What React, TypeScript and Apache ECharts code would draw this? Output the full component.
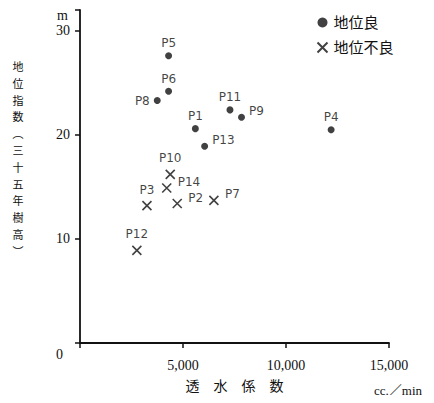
import React, { useEffect, useRef } from "react";
import * as echarts from "echarts";

// 地位良 (good site) points: [透水係数 cc/min, 地位指数 m, label]
const goodNames = ["P5", "P6", "P8", "P1", "P13", "P11", "P9", "P4"];
const goodX = [4300, 4300, 3750, 5600, 6050, 7280, 7840, 12190];
const goodY = [27.6, 24.2, 23.3, 20.6, 18.9, 22.4, 21.7, 20.5];

// 地位不良 (poor site) points
const poorNames = ["P10", "P14", "P3", "P2", "P7", "P12"];
const poorX = [4380, 4210, 3250, 4720, 6500, 2760];
const poorY = [16.2, 14.9, 13.2, 13.4, 13.7, 8.9];

const xTicks = [0, 5000, 10000, 15000];
const yTicks = [0, 10, 20, 30];
const yNameChars = ["地", "位", "指", "数", "︵", "三", "十", "五", "年", "樹", "高", "︶"];

const goodLabelPos = ["top", "top", "left", "top", "right", "top", "right", "top"];
const poorLabelPos = ["top", "right", "top", "right", "right", "top"];

const FONT = "'Liberation Serif', 'Noto Sans CJK JP', serif";
const HAND = "'DejaVu Sans', 'Noto Sans', sans-serif";
const CROSS = "path://M0 0L10 10M10 0L0 10";

export default function App() {
  const ref = useRef<HTMLDivElement>(null);
  useEffect(() => {
    if (!ref.current) return;
    const chart = echarts.init(ref.current, null, { renderer: "svg" });
    const mk = (xs: number[], ys: number[], names: string[], pos: string[]) =>
      xs.map((x, i) => ({
        value: [x, ys[i]],
        name: names[i],
        label: {
          position: pos[i],
          distance: pos[i] === "top" ? 3 : 4,
          offset: pos[i] === "right" ? [0, -6] : [0, 0],
        },
      }));
    const yNameGraphics = yNameChars.map((c, i) => ({
      type: "text",
      x: 18,
      y: 66 + i * 16.8,
      style: {
        text: c,
        fontSize: 11,
        fontFamily: "'Noto Sans CJK JP', sans-serif",
        fill: "#111",
        align: "center",
        verticalAlign: "middle",
      },
    }));
    chart.setOption({
      animation: false,
      backgroundColor: "#ffffff",
      textStyle: { fontFamily: FONT, color: "#111" },
      grid: { left: 80, right: 45, top: 10, bottom: 60, containLabel: false },
      legend: {
        orient: "vertical",
        left: 310,
        top: 10,
        itemGap: 10,
        itemWidth: 12,
        itemHeight: 10,
        textStyle: { fontSize: 15, fontFamily: FONT, color: "#111" },
        data: [
          { name: "地位良", icon: "circle" },
          { name: "地位不良", icon: CROSS },
        ],
      },
      xAxis: {
        type: "value",
        min: 0,
        max: 15000,
        interval: 5000,
        name: "透　水　係　数",
        nameLocation: "middle",
        nameGap: 36,
        nameTextStyle: { fontSize: 14, fontFamily: FONT, color: "#111" },
        axisLine: { lineStyle: { color: "#111", width: 1.8 } },
        axisTick: { show: true, length: 5, inside: false, lineStyle: { color: "#111", width: 1.5 } },
        splitLine: { show: false },
        axisLabel: {
          margin: 15,
          fontSize: 14,
          color: "#111",
          fontFamily: FONT,
          formatter: (v: number) => (v === 0 ? "" : xTicks.includes(v) ? v.toLocaleString("en-US") : ""),
        },
      },
      yAxis: {
        type: "value",
        min: 0,
        max: 32,
        interval: 10,
        axisLine: { show: true, lineStyle: { color: "#111", width: 1.8 } },
        axisTick: { show: true, length: 5, inside: false, lineStyle: { color: "#111", width: 1.5 } },
        splitLine: { show: false },
        axisLabel: {
          margin: 10,
          fontSize: 14,
          color: "#111",
          fontFamily: FONT,
          formatter: (v: number) => (v === 0 ? "" : yTicks.includes(v) ? String(v) : ""),
        },
      },
      graphic: [
        ...yNameGraphics,
        { type: "text", left: 57, top: 8, style: { text: "m", fontSize: 14, fontFamily: FONT, fill: "#111" } },
        { type: "text", left: 56, top: 347, style: { text: "0", fontSize: 14, fontFamily: FONT, fill: "#111" } },
        { type: "text", left: 374, top: 384, style: { text: "cc.／min", fontSize: 13, fontFamily: FONT, fill: "#111" } },
      ],
      series: [
        {
          name: "地位良",
          type: "scatter",
          symbol: "circle",
          symbolSize: 7,
          itemStyle: { color: "#111" },
          label: { show: true, formatter: "{b}", fontSize: 12, fontFamily: HAND, color: "#111" },
          data: mk(goodX, goodY, goodNames, goodLabelPos),
        },
        {
          name: "地位不良",
          type: "scatter",
          symbol: CROSS,
          symbolSize: 9,
          itemStyle: { color: "none", borderColor: "#111", borderWidth: 1.6 },
          label: { show: true, formatter: "{b}", fontSize: 12, fontFamily: HAND, color: "#111" },
          data: mk(poorX, poorY, poorNames, poorLabelPos),
        },
      ],
    });
    return () => chart.dispose();
  }, []);
  return <div ref={ref} style={{ width: 434, height: 403, margin: -8 }} />;
}
